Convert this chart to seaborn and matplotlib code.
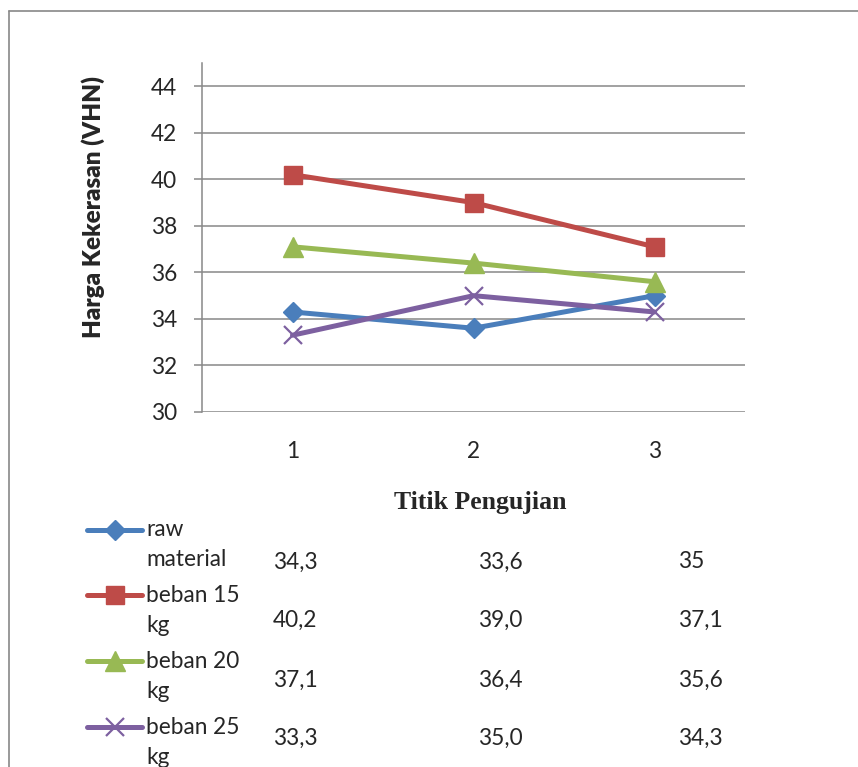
import matplotlib
matplotlib.use("Agg")
import matplotlib.pyplot as plt
from matplotlib.lines import Line2D
import seaborn as sns
import pandas as pd

# data
titik = [1, 2, 3]
series_names = ["raw material", "beban 15 kg", "beban 20 kg", "beban 25 kg"]
table_labels = ["raw\nmaterial", "beban 15\nkg", "beban 20\nkg", "beban 25\nkg"]
raw_material = [34.3, 33.6, 35.0]
beban_15 = [40.2, 39.0, 37.1]
beban_20 = [37.1, 36.4, 35.6]
beban_25 = [33.3, 35.0, 34.3]
general_format = [True, False, False, False]

colors = ["#4A7EBB", "#BE4B48", "#98B954", "#7D60A0"]
markers = ["D", "s", "^", "x"]
msizes = [10.5, 13, 14, 13]

W, H = 858, 767
FS = 16.3

sns.set_style("white")
plt.rcParams['font.family'] = ['Lato', 'DejaVu Sans']

fig = plt.figure(figsize=(W / 100, H / 100), dpi=100)


def fx(x):
    return x / W


def fy(y):
    return 1 - y / H


ax = fig.add_axes([fx(202), fy(412), (745 - 202) / W, (412 - 63) / H])

df = pd.DataFrame({
    "pos": list(range(len(titik))) * 4,
    "nilai": raw_material + beban_15 + beban_20 + beban_25,
    "seri": [s for s in series_names for _ in titik],
})

for name, c, m, ms in zip(series_names, colors, markers, msizes):
    sub = df[df["seri"] == name]
    filled = m != "x"
    sns.lineplot(data=sub, x="pos", y="nilai", ax=ax, color=c, lw=3.6,
                 marker=m, markersize=ms, markeredgecolor=c,
                 markerfacecolor=c if filled else "none",
                 markeredgewidth=1.0 if filled else 1.6, legend=False)

grid_c = "#888888"
ax.set_xlim(-0.5, len(titik) - 0.5)
ax.set_ylim(30, 45)
ax.set_yticks(range(30, 45, 2))
ax.set_xticks(range(len(titik)))
ax.set_xticklabels([str(t) for t in titik])
ax.yaxis.grid(True, color=grid_c, lw=1.1)
ax.xaxis.grid(False)
for s in ["top", "right", "bottom"]:
    ax.spines[s].set_visible(False)
ax.spines["left"].set_color(grid_c)
ax.spines["left"].set_linewidth(1.1)
ax.tick_params(axis="y", length=6, width=1.1, color=grid_c, pad=12,
               labelsize=FS, left=True)
ax.tick_params(axis="x", length=0, pad=21, labelsize=FS)

ax.set_xlabel("Titik Pengujian", fontsize=18.5, fontweight="bold",
              family=["Liberation Serif", "DejaVu Serif"])
ax.xaxis.set_label_coords((480 - 202) / 543, (412 - 502) / 349)
ax.xaxis.label.set_va("center")
ax.set_ylabel("Harga Kekerasan (VHN)", fontsize=17.5, fontweight="heavy")
ax.yaxis.set_label_coords((93 - 202) / 543, (412 - 207) / 349)
ax.yaxis.label.set_va("center")

# data table below the chart
col_x = [273, 478, 678]
key_y = [530, 595, 661, 727]
val_y = [562, 620, 680, 738]
all_vals = [raw_material, beban_15, beban_20, beban_25]


def fmt(v, general):
    if general and float(v).is_integer():
        return f"{int(v)}"
    return f"{v:.1f}".replace(".", ",")


for i in range(len(series_names)):
    c, m, ms = colors[i], markers[i], msizes[i]
    filled = m != "x"
    fig.add_artist(Line2D([fx(87), fx(142)], [fy(key_y[i])] * 2,
                          transform=fig.transFigure, color=c, lw=3.6,
                          solid_capstyle="round"))
    fig.add_artist(Line2D([fx(114.5)], [fy(key_y[i])],
                          transform=fig.transFigure, color=c, marker=m,
                          markersize=ms, markeredgecolor=c,
                          markerfacecolor=c if filled else "none",
                          markeredgewidth=1.0 if filled else 1.6, lw=0))
    first, second = table_labels[i].split("\n")
    fig.text(fx(146), fy(key_y[i]), first, fontsize=FS, va="center", ha="left")
    fig.text(fx(146), fy(key_y[i] + 30), second, fontsize=FS, va="center", ha="left")
    for j, v in enumerate(all_vals[i]):
        fig.text(fx(col_x[j]), fy(val_y[i]), fmt(v, general_format[i]),
                 fontsize=FS, va="center", ha="left")

# outer chart frame (top and left edges visible)
fig.add_artist(Line2D([fx(9), fx(9)], [fy(11), 0], transform=fig.transFigure,
                      color="#888888", lw=1.2))
fig.add_artist(Line2D([fx(9), 1], [fy(11), fy(11)], transform=fig.transFigure,
                      color="#888888", lw=1.2))

fig.savefig("out.png", dpi=100)
plt.close(fig)
